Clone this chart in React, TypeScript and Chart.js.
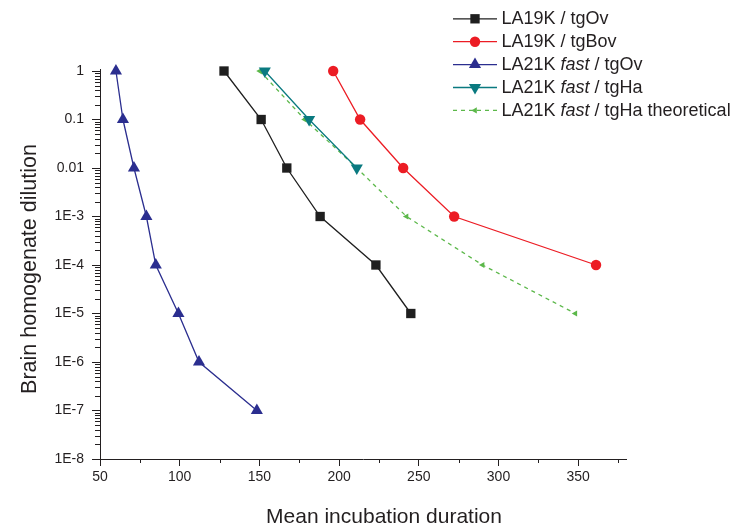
import React, { useEffect, useRef } from 'react';
import { Chart, registerables } from 'chart.js';

Chart.register(...registerables);

// ---------------- data ----------------
const seriesNames = [
  'LA19K / tgOv',
  'LA19K / tgBov',
  'LA21K fast / tgOv',
  'LA21K fast / tgHa',
  'LA21K fast / tgHa theoretical',
];

const la19kOvX = [127.8, 151.1, 167.2, 188.1, 223.1, 245.0];
const la19kOvY = [1, 1e-1, 1e-2, 1e-3, 1e-4, 1e-5];

const la19kBovX = [196.3, 213.2, 240.2, 272.2, 361.2];
const la19kBovY = [1, 1e-1, 1e-2, 1e-3, 1e-4];

const la21kOvX = [60.0, 64.4, 71.3, 79.1, 85.0, 99.2, 112.1, 148.4];
const la21kOvY = [1, 1e-1, 1e-2, 1e-3, 1e-4, 1e-5, 1e-6, 1e-7];

const la21kHaX = [153.4, 181.2, 211.1];
const la21kHaY = [1, 1e-1, 1e-2];

const la21kHaTheoX = [150.3, 178.5, 211.1, 242.3, 290.0, 348.2];
const la21kHaTheoY = [1, 1e-1, 1e-2, 1e-3, 1e-4, 1e-5];

const xTickValues = [50, 100, 150, 200, 250, 300, 350];
const yTickValues = [1e-8, 1e-7, 1e-6, 1e-5, 1e-4, 1e-3, 1e-2, 1e-1, 1];
const yTickLabels = ['1E-8', '1E-7', '1E-6', '1E-5', '1E-4', '1E-3', '0.01', '0.1', '1'];

const xTitle = 'Mean incubation duration';
const yTitle = 'Brain homogenate dilution';

// ---------------- styles ----------------
const FONT = '"Liberation Sans", Arial, Helvetica, sans-serif';
const INK = '#231f20';

type Style = {
  color: string;
  point: string;
  rotation: number;
  radius: number;
  dash: number[];
};

const styles: Style[] = [
  { color: '#1f1f1f', point: 'rect', rotation: 0, radius: 6.6, dash: [] },
  { color: '#ec1c24', point: 'circle', rotation: 0, radius: 5.2, dash: [] },
  { color: '#2b2e8f', point: 'triangle', rotation: 0, radius: 7, dash: [] },
  { color: '#0a7a80', point: 'triangle', rotation: 180, radius: 7, dash: [] },
  { color: '#5cb84a', point: 'triangle', rotation: -90, radius: 3.6, dash: [4, 4] },
];

const seriesX = [la19kOvX, la19kBovX, la21kOvX, la21kHaX, la21kHaTheoX];
const seriesY = [la19kOvY, la19kBovY, la21kOvY, la21kHaY, la21kHaTheoY];

function drawMarker(ctx: CanvasRenderingContext2D, s: Style, x: number, y: number) {
  ctx.save();
  ctx.fillStyle = s.color;
  ctx.setLineDash([]);
  ctx.beginPath();
  if (s.point === 'rect') {
    const h = s.radius * Math.SQRT1_2;
    ctx.rect(x - h, y - h, 2 * h, 2 * h);
  } else if (s.point === 'circle') {
    ctx.arc(x, y, s.radius, 0, Math.PI * 2);
  } else {
    let rad = (s.rotation * Math.PI) / 180;
    const r = s.radius;
    ctx.moveTo(x + Math.sin(rad) * r, y - Math.cos(rad) * r);
    rad += (2 * Math.PI) / 3;
    ctx.lineTo(x + Math.sin(rad) * r, y - Math.cos(rad) * r);
    rad += (2 * Math.PI) / 3;
    ctx.lineTo(x + Math.sin(rad) * r, y - Math.cos(rad) * r);
    ctx.closePath();
  }
  ctx.fill();
  ctx.restore();
}

const decorPlugin = {
  id: 'decor',
  afterDraw(chart: any) {
    const ctx: CanvasRenderingContext2D = chart.ctx;
    const xs = chart.scales.x;
    const ys = chart.scales.y;
    const area = chart.chartArea;
    ctx.save();
    ctx.strokeStyle = INK;
    ctx.lineWidth = 1;
    ctx.setLineDash([]);
    // minor ticks x
    ctx.beginPath();
    for (let i = 0; i < xTickValues.length; i++) {
      const v = xTickValues[i] + 25;
      if (v > xs.max) continue;
      const px = Math.round(xs.getPixelForValue(v)) + 0.5;
      ctx.moveTo(px, area.bottom);
      ctx.lineTo(px, area.bottom + 4);
    }
    // minor ticks y
    for (let i = 0; i < yTickValues.length - 1; i++) {
      for (let k = 2; k <= 9; k++) {
        const v = yTickValues[i] * k;
        const py = Math.round(ys.getPixelForValue(v)) + 0.5;
        ctx.moveTo(area.left - 5, py);
        ctx.lineTo(area.left, py);
      }
    }
    ctx.stroke();

    // axis titles
    ctx.fillStyle = INK;
    ctx.font = `21px ${FONT}`;
    ctx.textAlign = 'center';
    ctx.textBaseline = 'alphabetic';
    ctx.fillText(xTitle, 384, 523);
    ctx.save();
    ctx.font = `21.5px ${FONT}`;
    ctx.translate(30, 269);
    ctx.rotate(-Math.PI / 2);
    ctx.textBaseline = 'middle';
    ctx.fillText(yTitle, 0, 0);
    ctx.restore();

    // legend
    ctx.textAlign = 'left';
    ctx.textBaseline = 'middle';
    for (let i = 0; i < seriesNames.length; i++) {
      const s = styles[i];
      const y = 18.3 + i * 22.9;
      ctx.save();
      ctx.strokeStyle = s.color;
      ctx.lineWidth = 1.3;
      ctx.setLineDash(s.dash);
      ctx.beginPath();
      ctx.moveTo(453, y + 0.5);
      ctx.lineTo(497, y + 0.5);
      ctx.stroke();
      ctx.restore();
      drawMarker(ctx, s, 475, y + 0.5);
      let x = 501.5;
      const parts = seriesNames[i].split(/(fast)/);
      for (const p of parts) {
        if (!p) continue;
        ctx.font = p === 'fast' ? `italic 18px ${FONT}` : `18px ${FONT}`;
        ctx.fillStyle = INK;
        ctx.fillText(p, x, y + 1);
        x += ctx.measureText(p).width;
      }
    }
    ctx.restore();
  },
};

export default function App() {
  const ref = useRef<HTMLCanvasElement | null>(null);

  useEffect(() => {
    if (!ref.current) return;
    Chart.defaults.font.family = FONT;
    const datasets = seriesNames.map((name, i) => {
      const s = styles[i];
      return {
        label: name,
        data: seriesX[i].map((x, j) => ({ x, y: seriesY[i][j] })),
        borderColor: s.color,
        backgroundColor: s.color,
        borderWidth: 1.3,
        borderDash: s.dash,
        pointStyle: s.point,
        rotation: s.rotation,
        pointRadius: s.radius,
        pointBorderWidth: 0,
        pointBackgroundColor: s.color,
        tension: 0,
        clip: false as any,
        showLine: true,
      };
    });

    const chart = new Chart(ref.current, {
      type: 'scatter',
      data: { datasets: datasets as any },
      options: {
        responsive: false,
        animation: false,
        devicePixelRatio: 1,
        layout: { padding: { left: 0, top: 69, right: 108, bottom: 0 } },
        plugins: {
          legend: { display: false },
          tooltip: { enabled: false },
          title: { display: false },
        },
        scales: {
          x: {
            type: 'linear',
            min: 50,
            max: 380,
            afterBuildTicks: (s: any) => {
              s.ticks = xTickValues.map((v) => ({ value: v }));
            },
            afterFit: (s: any) => {
              s.height = 72;
            },
            ticks: {
              color: INK,
              font: { size: 14, family: FONT },
              padding: 3,
              maxRotation: 0,
              autoSkip: false,
            },
            grid: {
              display: true,
              drawOnChartArea: false,
              drawTicks: true,
              tickLength: 7,
              color: INK,
              lineWidth: 1,
            },
            border: { display: true, color: INK, width: 1 },
          },
          y: {
            type: 'logarithmic',
            min: 1e-8,
            max: 1.1,
            afterBuildTicks: (s: any) => {
              s.ticks = yTickValues.map((v) => ({ value: v, major: true }));
            },
            afterFit: (s: any) => {
              s.width = 100;
            },
            ticks: {
              color: INK,
              font: { size: 14, family: FONT },
              padding: 8,
              autoSkip: false,
              callback: (v: any) => {
                const idx = yTickValues.findIndex((t) => Math.abs(Math.log10(t) - Math.log10(Number(v))) < 1e-6);
                return idx >= 0 ? yTickLabels[idx] : '';
              },
            },
            grid: {
              display: true,
              drawOnChartArea: false,
              drawTicks: true,
              tickLength: 8,
              color: INK,
              lineWidth: 1,
            },
            border: { display: true, color: INK, width: 1 },
          },
        },
      } as any,
      plugins: [decorPlugin],
    });
    return () => chart.destroy();
  }, []);

  return (
    <div style={{ position: 'fixed', left: 0, top: 0, width: 734, height: 531, background: '#fff' }}>
      <canvas ref={ref} width={734} height={531} style={{ display: 'block', width: 734, height: 531 }} />
    </div>
  );
}
